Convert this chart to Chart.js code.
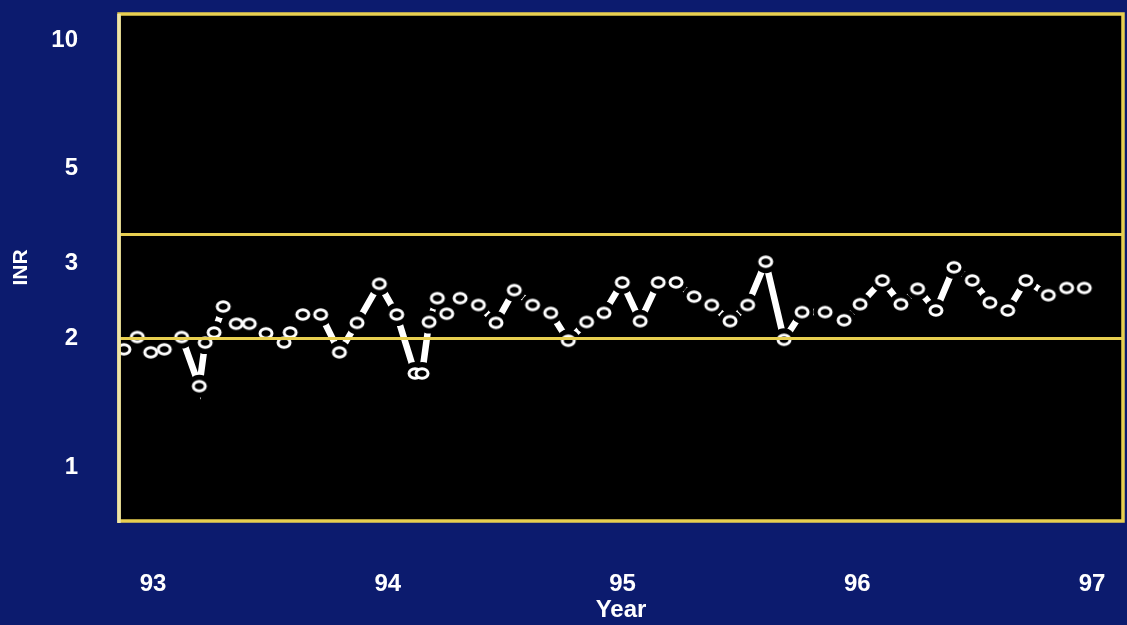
<!DOCTYPE html>
<html>
<head>
<meta charset="utf-8">
<title>INR</title>
<script src="https://cdn.jsdelivr.net/npm/chart.js@4.4.1/dist/chart.umd.min.js"></script>
<style>
  html, body { margin: 0; padding: 0; background: #0c1b6e; }
  canvas { display: block; }
</style>
</head>
<body>
<canvas id="inr" width="1127" height="625"></canvas>
<script>
// year (93 = 1993) of each INR check
const years = [
  92.876, 92.933, 92.990, 93.048, 93.122, 93.197, 93.222, 93.260, 93.299, 93.354,
  93.410, 93.481, 93.558, 93.584, 93.638, 93.714, 93.794, 93.869, 93.964, 94.038,
  94.116, 94.146, 94.176, 94.211, 94.251, 94.308, 94.386, 94.461, 94.539, 94.617,
  94.694, 94.769, 94.847, 94.921, 94.999, 95.075, 95.152, 95.228, 95.305, 95.380,
  95.458, 95.533, 95.610, 95.688, 95.765, 95.863, 95.944, 96.012, 96.107, 96.186,
  96.257, 96.335, 96.412, 96.490, 96.565, 96.641, 96.718, 96.814, 96.892, 96.967
];
const inr = [
  1.89, 2.02, 1.86, 1.89, 2.02, 1.55, 1.96, 2.07, 2.38, 2.17,
  2.17, 2.06, 1.96, 2.07, 2.28, 2.28, 1.86, 2.18, 2.69, 2.28,
  1.66, 1.66, 2.19, 2.49, 2.29, 2.49, 2.40, 2.18, 2.60, 2.40,
  2.30, 1.98, 2.19, 2.30, 2.71, 2.20, 2.71, 2.71, 2.51, 2.40,
  2.20, 2.40, 3.03, 1.99, 2.31, 2.31, 2.21, 2.41, 2.74, 2.41,
  2.62, 2.33, 2.94, 2.74, 2.43, 2.33, 2.74, 2.53, 2.63, 2.63
];
const yearTicks = [93, 94, 95, 96, 97];
const inrTicks = [1, 2, 3, 5, 10];
const targetRange = [2, 3.5];

const YELLOW = '#e8cf50';
const points = years.map((x, i) => ({ x: x, y: inr[i] }));

// the "o" marker used on the slide
function ovalMarker() {
  const c = document.createElement('canvas');
  c.width = 18; c.height = 15;
  const g = c.getContext('2d');
  g.beginPath();
  g.ellipse(9, 7.5, 6.0, 4.8, 0, 0, Math.PI * 2);
  g.fillStyle = '#000';
  g.fill();
  g.lineWidth = 3;
  g.strokeStyle = '#fff';
  g.stroke();
  return c;
}

const framePlugin = {
  id: 'frame',
  beforeDraw(chart) {
    const { ctx, chartArea: a } = chart;
    ctx.save();
    ctx.fillStyle = '#000';
    ctx.fillRect(a.left, a.top, a.right - a.left, a.bottom - a.top);
    ctx.restore();
  },
  afterDraw(chart) {
    const { ctx, chartArea: a } = chart;
    ctx.save();
    ctx.lineWidth = 3.5;
    ctx.strokeStyle = YELLOW;
    ctx.strokeRect(a.left, a.top, a.right - a.left, a.bottom - a.top);
    ctx.strokeStyle = '#efe6a8';
    ctx.beginPath();
    ctx.moveTo(a.left, a.top);
    ctx.lineTo(a.left, a.bottom + 2);
    ctx.stroke();
    ctx.restore();
  }
};

const tickFont = { family: '"Liberation Sans", Arial, sans-serif', size: 24, weight: 'bold' };
const yearFont = { family: '"Liberation Sans", Arial, sans-serif', size: 24, weight: 'bold' };
const inrFont = { family: '"Liberation Sans", Arial, sans-serif', size: 21, weight: 'bold' };

new Chart(document.getElementById('inr'), {
  type: 'line',
  data: {
    datasets: [
      { data: points, borderColor: '#fff', borderWidth: 6.5, pointRadius: 0, order: 3 },
      { data: points, showLine: false, pointRadius: 11.5, pointBackgroundColor: '#000',
        pointBorderWidth: 0, order: 2 },
      { data: points, showLine: false, pointStyle: ovalMarker(), order: 1 }
    ]
  },
  options: {
    responsive: false,
    devicePixelRatio: 1,
    animation: false,
    layout: { autoPadding: false, padding: { top: 14, right: 4, left: 0, bottom: 0 } },
    plugins: { legend: { display: false }, tooltip: { enabled: false } },
    scales: {
      x: {
        type: 'linear',
        min: 92.855,
        max: 97.132,
        afterBuildTicks: s => { s.ticks = yearTicks.map(v => ({ value: v })); },
        afterFit: s => { s.height = 104; s.paddingLeft = 0; s.paddingRight = 0; },
        grid: { display: false, drawTicks: false },
        border: { display: false },
        ticks: { color: '#fff', font: tickFont, padding: 49, maxRotation: 0,
                 callback: v => String(v) },
        title: { display: true, text: 'Year', color: '#fff', font: yearFont,
                 padding: { top: 0, bottom: 0 } }
      },
      y: {
        type: 'logarithmic',
        min: 0.75,
        max: 11.5,
        afterBuildTicks: s => {
          s.ticks = inrTicks.concat(targetRange).sort((a, b) => a - b)
            .filter((v, i, arr) => arr.indexOf(v) === i).map(v => ({ value: v }));
        },
        afterFit: s => { s.width = 119; s.paddingTop = 0; s.paddingBottom = 0; },
        grid: {
          drawTicks: false,
          z: 1,
          lineWidth: 3,
          color: c => targetRange.includes(c.tick.value) ? YELLOW : 'rgba(0,0,0,0)'
        },
        border: { display: false },
        ticks: { color: '#fff', font: tickFont, padding: 41,
                 callback: v => inrTicks.includes(v) ? String(v) : '' },
        title: { display: true, text: 'INR', color: '#fff', font: inrFont,
                 padding: { top: 9, bottom: 0 } }
      }
    }
  },
  plugins: [framePlugin]
});
</script>
</body>
</html>
